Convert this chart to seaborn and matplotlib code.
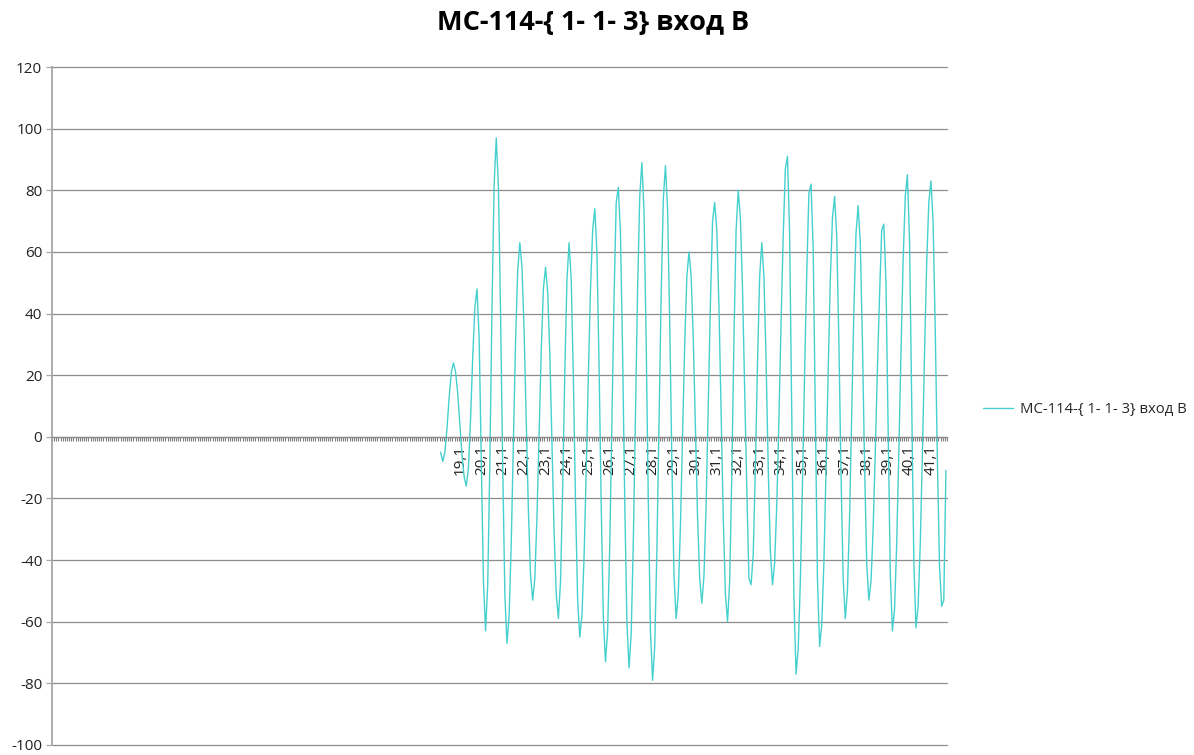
import numpy as np
import pandas as pd
import matplotlib
matplotlib.use("Agg")
import matplotlib.pyplot as plt
import seaborn as sns

# Time axis (categories, step 0.1) and the measured signal
times = np.round(np.arange(1, 419) / 10, 1)
signal_start = 18.2
signal = [
    -5, -8, -5, 3, 13, 21, 24, 21, 14, 4,
    -6, -13, -16, -10, 6, 26, 42, 48, 32, -8,
    -47, -63, -48, -8, 42, 82, 97, 81, 40, -10,
    -51, -67, -58, -34, -2, 31, 54, 63, 55, 34,
    5, -24, -45, -53, -46, -26, 1, 28, 48, 55,
    47, 27, -2, -31, -51, -59, -47, -17, 21, 51,
    63, 51, 19, -21, -53, -65, -58, -39, -11, 20,
    48, 67, 74, 60, 23, -22, -59, -73, -63, -35,
    4, 45, 76, 81, 66, 27, -21, -60, -75, -64,
    -34, 7, 48, 78, 89, 73, 31, -21, -63, -79,
    -68, -37, 5, 46, 77, 88, 74, 37, -8, -45,
    -59, -51, -29, 1, 30, 52, 60, 52, 32, 3,
    -26, -46, -54, -45, -22, 11, 43, 70, 76, 67,
    42, 8, -26, -51, -60, -47, -12, 32, 67, 80,
    71, 48, 16, -17, -46, -48, -38, -10, 24, 52,
    63, 52, 25, -10, -37, -48, -41, -22, 6, 37,
    65, 87, 91, 66, 7, -52, -77, -69, -47, -15,
    21, 53, 79, 82, 61, 8, -46, -68, -61, -41,
    -11, 21, 51, 71, 78, 65, 31, -12, -46, -59,
    -50, -26, 8, 41, 66, 75, 63, 31, -9, -41,
    -53, -47, -30, -5, 22, 46, 67, 69, 50, 3,
    -44, -63, -56, -35, -5, 27, 57, 78, 85, 64,
    12, -40, -62, -55, -35, -6, 27, 56, 76, 83,
    70, 35, -7, -42, -55, -53, -11,
]
labelled_times = [19.1 + k for k in range(23)]
series_name = "МС-114-{ 1- 1- 3} вход В"
title = "МС-114-{ 1- 1- 3} вход В"
y_ticks = list(range(-100, 121, 20))

line_color = "#45D0CE"
grid_color = "#8c8c8c"

sns.set_theme(style="white")
plt.rcParams["font.family"] = ["Open Sans", "DejaVu Sans"]

# Build the table: one row per category, signal aligned to its start time
start_idx = int(np.where(times == signal_start)[0][0])
values = np.full(len(times), np.nan)
values[start_idx:start_idx + len(signal)] = signal
df = pd.DataFrame({"pos": np.arange(len(times)), "time": times, "value": values,
                   "series": series_name})

fig = plt.figure(figsize=(11.94, 7.55), dpi=100)
ax = fig.add_axes([52 / 1194, 1 - 745 / 755, (947 - 52) / 1194, (745 - 67) / 755])

sns.lineplot(data=df.dropna(), x="pos", y="value", hue="series",
             palette=[line_color], linewidth=1.0, ax=ax, legend=True)

ax.set_xlim(-0.5, len(times) - 0.5)
ax.set_ylim(-100, 120)
ax.set_yticks(y_ticks)
ax.set_yticklabels([str(v) for v in y_ticks], fontsize=11, color="#222222")
ax.yaxis.grid(True, color=grid_color, linewidth=0.9)
for gl in ax.yaxis.get_gridlines():
    gl.set_clip_on(False)
ax.xaxis.grid(False)
ax.set_xlabel("")
ax.set_ylabel("")

# Category axis crossing at zero with tick marks between categories
ax.spines["bottom"].set_position(("data", 0))
ax.spines["bottom"].set_color(grid_color)
ax.spines["bottom"].set_linewidth(0.9)
ax.spines["left"].set_color("#a6a6a6")
ax.spines["left"].set_linewidth(1.3)
ax.spines["top"].set_visible(False)
ax.spines["right"].set_visible(False)

boundaries = np.arange(len(times) + 1) - 0.5
ax.set_xticks(boundaries)
ax.set_xticklabels([""] * len(boundaries))
ax.tick_params(axis="x", which="major", direction="out", length=3.2, width=0.8,
               color="#7f7f7f", bottom=True)

label_pos = [int(np.argmin(np.abs(times - t))) for t in labelled_times]
ax.set_xticks(label_pos, minor=True)
ax.set_xticklabels([f"{t:.1f}".replace(".", ",") for t in labelled_times],
                   minor=True, rotation=90, fontsize=11, color="#222222")
ax.tick_params(axis="x", which="minor", length=0, pad=6)
ax.tick_params(axis="y", direction="out", length=4, width=0.9, color="#a6a6a6",
               left=True, pad=3)

fig.text(593 / 1194, 1 - 23 / 755, title, ha="center", va="center",
         fontsize=19.5, fontweight="bold", color="#000000")

handles, labels = ax.get_legend_handles_labels()
ax.legend_.remove()
fig.legend(handles, labels, loc="center left",
           bbox_to_anchor=(983 / 1194, 1 - 410 / 755),
           bbox_transform=fig.transFigure, frameon=False, fontsize=10.7,
           handlelength=2.0, handletextpad=0.5, borderpad=0, borderaxespad=0)

fig.savefig("out.png", dpi=100, facecolor="white")
